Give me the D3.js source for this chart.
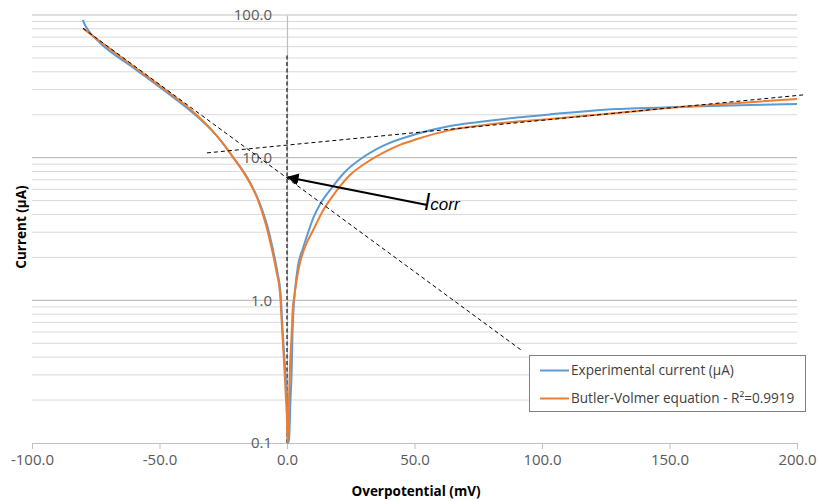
<!DOCTYPE html>
<html>
<head>
<meta charset="utf-8">
<script src="https://cdn.jsdelivr.net/npm/d3@7"></script>
<style>
  html, body { margin: 0; padding: 0; background: #fff; }
  svg { display: block; font-family: "Open Sans", "Noto Sans", sans-serif; }
</style>
</head>
<body>
<svg id="chart" width="819" height="501"></svg>
<script>
// ---- Data ----
const xTicks = [-100, -50, 0, 50, 100, 150, 200];
const yTicks = [0.1, 1, 10, 100];

// Experimental current (µA)
const etaExp = [-80.1, -79.0, -77.3, -73.3, -60.4, -47.1, -38.0, -27.5, -21.2, -15.5, -11.2, -7.84, -5.49, -3.73, -2.55, -1.65, -0.78, 0.0, 0.3,
  0.78, 1.37, 1.84, 2.16, 2.55, 3.14, 4.3, 6.3, 8.24, 10.3, 12.9, 17.5, 22.7, 28.6, 37.6, 51.0, 63.9, 76.9, 90.2, 103.1, 129.4, 155.3, 181.6, 200];
const curExp = [92.3, 83.7, 75.4, 63.7, 42.9, 28.6, 21.4, 14.2, 10.1, 7.21, 5.05, 3.38, 2.26, 1.56, 1.13, 0.59, 0.34, 0.2, 0.1,
  0.105, 0.2, 0.325, 0.59, 0.86, 1.18, 1.74, 2.33, 2.97, 3.78, 4.70, 6.13, 7.94, 9.71, 12.1, 14.7, 16.7, 17.9, 19.1, 20.1, 21.9, 22.7, 23.4, 23.8];

// Butler-Volmer equation fit
const etaBV = [-80.0, -73.3, -60.4, -47.1, -38.0, -32.2, -27.5, -21.2, -15.7, -11.4, -8.24, -5.88, -4.04, -2.75, -1.84, -1.06, -0.39, 0.0, 0.2,
  0.51, 0.78, 1.18, 1.84, 2.24, 2.86, 3.8, 5.1, 7.06, 10.3, 13.6, 18.8, 24.7, 30.6, 37.6, 44.3, 51.0, 63.9, 76.9, 90.2, 103.1, 129.4, 155.3, 181.6, 200];
const curBV = [80.4, 65.2, 43.9, 29.3, 21.9, 17.5, 14.2, 10.1, 7.21, 5.05, 3.38, 2.26, 1.56, 1.13, 0.59, 0.34, 0.20, 0.145, 0.1,
  0.145, 0.20, 0.34, 0.59, 0.86, 1.06, 1.39, 1.83, 2.37, 3.11, 4.10, 5.66, 7.56, 9.10, 10.8, 12.3, 13.5, 15.6, 16.9, 17.9, 18.7, 20.6, 22.7, 24.5, 25.8];

// Tafel extrapolation lines
const tafelCathEta = [-80, 92];
const tafelCathCur = [80.8, 0.446];
const tafelAnodEta = [-31.4, 203];
const tafelAnodCur = [10.8, 27.6];
const eCorrEta = [0, 0];
const eCorrCur = [0.1, 54];

// Icorr annotation arrow (from label to intersection)
const arrowEta = [54.5, 0.3];
const arrowCur = [4.67, 7.3];

const seriesNames = ["Experimental current (µA)", "Butler-Volmer equation - R²=0.9919"];
const seriesColors = ["#5B9BD5", "#ED7D31"];

// ---- Drawing ----
const svg = d3.select("#chart");
const x = d3.scaleLinear().domain([-100, 200]).range([32, 797]);
const y = d3.scaleLog().domain([0.1, 100]).range([443, 15]);
const fmt = d => d3.format(".1f")(d).replace("\u2212", "-");

const defs = svg.append("defs");
defs.append("marker").attr("id", "arrowhead")
  .attr("viewBox", "0 0 10 10").attr("refX", 9).attr("refY", 5)
  .attr("markerWidth", 6).attr("markerHeight", 6).attr("orient", "auto")
  .append("path").attr("d", "M0,0 L10,5 L0,10 z").attr("fill", "#000");

// gridlines
const minor = [];
for (let d = 0.1; d < 100; d *= 10) {
  for (let k = 2; k <= 9; k++) minor.push(+(d * k).toPrecision(3));
}
svg.append("g").selectAll("line").data(minor).join("line")
  .attr("x1", x(-100)).attr("x2", x(200))
  .attr("y1", d => y(d)).attr("y2", d => y(d))
  .attr("stroke", "#d9d9d9").attr("stroke-width", 1);
svg.append("g").selectAll("line").data(yTicks.slice(1)).join("line")
  .attr("x1", x(-100)).attr("x2", x(200))
  .attr("y1", d => y(d)).attr("y2", d => y(d))
  .attr("stroke", "#c0c0c0").attr("stroke-width", 1.2);

// x axis
const xAxis = svg.append("g").attr("transform", `translate(0,${y(0.1)})`)
  .call(d3.axisBottom(x).tickValues(xTicks).tickFormat(fmt).tickSize(6).tickSizeOuter(0));
xAxis.select(".domain").attr("stroke", "#bfbfbf").attr("stroke-width", 1.2);
xAxis.selectAll(".tick line").attr("stroke", "#bfbfbf");
xAxis.selectAll(".tick text").attr("fill", "#595959").attr("font-size", 15)
  .attr("font-family", "Open Sans, sans-serif").attr("dy", "0.95em").attr("y", 8);

// y axis at x = 0
const yAxis = svg.append("g").attr("transform", `translate(${x(0)},0)`)
  .call(d3.axisLeft(y).tickValues(yTicks).tickFormat(fmt).tickSize(0).tickPadding(15));
yAxis.select(".domain").attr("stroke", "#bfbfbf").attr("stroke-width", 1.2);
yAxis.selectAll(".tick text").attr("fill", "#595959").attr("font-size", 15)
  .attr("font-family", "Open Sans, sans-serif");

// axis titles
svg.append("text").attr("x", 416).attr("y", 496).attr("text-anchor", "middle")
  .attr("font-size", 13.5).attr("font-weight", "bold").attr("fill", "#000")
  .text("Overpotential (mV)");
svg.append("text").attr("transform", "translate(26,227) rotate(-90)").attr("text-anchor", "middle")
  .attr("font-size", 13.5).attr("font-weight", "bold").attr("fill", "#000")
  .text("Current (µA)");

// dashed reference lines
const pair = (es, cs) => es.map((e, i) => [e, cs[i]]);
const straight = d3.line().x(d => x(d[0])).y(d => y(d[1]));
svg.append("path").attr("d", straight(pair(eCorrEta, eCorrCur)))
  .attr("stroke", "#333").attr("stroke-width", 1.4).attr("stroke-dasharray", "4,2.5").attr("fill", "none");

// curves
const curve = d3.line().x(d => x(d[0])).y(d => y(Math.max(0.1, d[1]))).curve(d3.curveMonotoneX);
svg.append("path").attr("d", curve(pair(etaExp, curExp)))
  .attr("stroke", seriesColors[0]).attr("stroke-width", 2).attr("fill", "none");
svg.append("path").attr("d", curve(pair(etaBV, curBV)))
  .attr("stroke", seriesColors[1]).attr("stroke-width", 2).attr("fill", "none");

svg.append("path").attr("d", straight(pair(tafelCathEta, tafelCathCur)))
  .attr("stroke", "#000").attr("stroke-width", 1).attr("stroke-dasharray", "4,3").attr("fill", "none");
svg.append("path").attr("d", straight(pair(tafelAnodEta, tafelAnodCur)))
  .attr("stroke", "#000").attr("stroke-width", 1).attr("stroke-dasharray", "4,3").attr("fill", "none");

// Icorr arrow + label
svg.append("path").attr("d", straight(pair(arrowEta, arrowCur)))
  .attr("stroke", "#000").attr("stroke-width", 2).attr("fill", "none")
  .attr("marker-end", "url(#arrowhead)");
const lab = svg.append("text").attr("x", x(arrowEta[0]) - 2).attr("y", y(4.3))
  .attr("font-family", "Liberation Sans, Arial, sans-serif").attr("font-style", "italic").attr("fill", "#000");
lab.append("tspan").attr("font-size", 23).text("I");
lab.append("tspan").attr("font-size", 17).text("corr");

// legend
const lg = svg.append("g");
lg.append("rect").attr("x", 529.5).attr("y", 355.5).attr("width", 276).attr("height", 56)
  .attr("fill", "#fff").attr("stroke", "#7f7f7f").attr("stroke-width", 1);
seriesNames.forEach((name, i) => {
  const yy = 370.5 + i * 28;
  lg.append("line").attr("x1", 540).attr("x2", 569).attr("y1", yy).attr("y2", yy)
    .attr("stroke", seriesColors[i]).attr("stroke-width", 2);
  lg.append("text").attr("x", 571).attr("y", yy).attr("dy", "0.35em")
    .attr("font-size", 13.6).attr("fill", "#404040").text(name);
});
</script>
</body>
</html>
